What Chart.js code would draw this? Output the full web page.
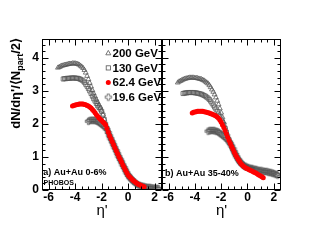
<!DOCTYPE html>
<html><head><meta charset="utf-8">
<script src="https://cdn.jsdelivr.net/npm/chart.js@4.4.1/dist/chart.umd.min.js"></script>
<style>
html,body{margin:0;padding:0;background:#fff;width:322px;height:249px;overflow:hidden;}
canvas{position:absolute;top:0;}
#c1{left:0}
#c2{left:154px}
</style></head><body>
<canvas id="c1" width="170" height="249"></canvas>
<canvas id="c2" width="168" height="249"></canvas>
<script>
// ---------- data ----------
const energies = ['200 GeV', '130 GeV', '62.4 GeV', '19.6 GeV'];
const etaGrid = [-5.3,-5.2,-5.1,-5.0,-4.9,-4.8,-4.7,-4.6,-4.5,-4.4,-4.3,-4.2,-4.1,-4.0,-3.9,-3.8,-3.7,-3.6,-3.5,-3.4,-3.3,-3.2,-3.1,-3.0,-2.9,-2.8,-2.7,-2.6,-2.5,-2.4,-2.3,-2.2,-2.1,-2.0,-1.9,-1.8,-1.7,-1.6,-1.5,-1.4,-1.3,-1.2,-1.1,-1.0,-0.9,-0.8,-0.7,-0.6,-0.5,-0.4,-0.3,-0.2,-0.1,0.0,0.1,0.2,0.3,0.4,0.5,0.6,0.7,0.8,0.9,1.0,1.1,1.2,1.3,1.4,1.5,1.6,1.7,1.8,1.9,2.0,2.1,2.2,2.3];
// index in etaGrid of the first point of each energy
const firstBin = [0, 4, 11, 23];

// panel a) Au+Au 0-6%
const v200a = [3.70,3.72,3.74,3.76,3.77,3.78,3.79,3.80,3.81,3.82,3.82,3.83,3.83,3.83,3.82,3.81,3.79,3.76,3.73,3.69,3.63,3.55,3.45,3.35,3.24,3.13,3.02,2.92,2.83,2.74,2.66,2.58,2.49,2.40,2.28,2.14,2.00,1.87,1.75,1.64,1.55,1.46,1.37,1.28,1.19,1.10,1.01,0.93,0.85,0.76,0.68,0.60,0.52,0.45];
const v130a = [3.36,3.37,3.37,3.38,3.38,3.38,3.39,3.39,3.39,3.39,3.38,3.38,3.37,3.35,3.33,3.30,3.26,3.20,3.14,3.07,3.00,2.92,2.84,2.76,2.69,2.62,2.55,2.50,2.45,2.38,2.27,2.13,1.99,1.86,1.75,1.64,1.55,1.46,1.37,1.28,1.19,1.10,1.01,0.93,0.85,0.76,0.68,0.60,0.52,0.45,0.40,0.36,0.32,0.28];
const v62a  = [2.54,2.56,2.57,2.58,2.59,2.60,2.60,2.60,2.60,2.59,2.58,2.56,2.54,2.51,2.48,2.44,2.39,2.34,2.28,2.23,2.18,2.14,2.10,2.06,2.02,1.97,1.86,1.75,1.64,1.55,1.46,1.37,1.28,1.19,1.10,1.01,0.93,0.85,0.76,0.68,0.60,0.52,0.45,0.40,0.36,0.32,0.28,0.25,0.22,0.19,0.17,0.15,0.13,0.11,0.10];
const v19a  = [2.08,2.10,2.11,2.11,2.11,2.10,2.09,2.07,2.05,2.02,1.99,1.96,1.93,1.89,1.83,1.74,1.64,1.55,1.46,1.37,1.28,1.19,1.10,1.01,0.93,0.85,0.76,0.68,0.60,0.52,0.45,0.39,0.34,0.30,0.26,0.23,0.20,0.17,0.15,0.13,0.12,0.11,0.10,0.09,0.08,0.08,0.07,0.07,0.06,0.06,0.05,0.05,0.04,0.04];

// panel b) Au+Au 35-40%
const v200b = [3.25,3.28,3.30,3.32,3.34,3.36,3.37,3.38,3.39,3.40,3.40,3.40,3.40,3.39,3.39,3.38,3.37,3.36,3.35,3.33,3.31,3.28,3.25,3.22,3.17,3.11,3.04,2.97,2.89,2.80,2.70,2.59,2.47,2.34,2.20,2.05,1.90,1.76,1.63,1.52,1.42,1.32,1.23,1.14,1.06,0.99,0.92,0.86,0.81,0.77,0.73,0.70,0.68,0.66];
const v130b = [2.92,2.93,2.94,2.94,2.95,2.95,2.95,2.95,2.95,2.94,2.94,2.93,2.92,2.91,2.90,2.88,2.86,2.84,2.81,2.78,2.74,2.69,2.63,2.57,2.51,2.45,2.38,2.30,2.22,2.14,2.06,1.98,1.87,1.75,1.63,1.52,1.42,1.32,1.23,1.14,1.06,0.99,0.92,0.86,0.81,0.77,0.73,0.70,0.68,0.66,0.65,0.64,0.63,0.62];
const v62b  = [2.33,2.35,2.36,2.37,2.38,2.38,2.38,2.38,2.38,2.37,2.36,2.35,2.34,2.33,2.31,2.30,2.28,2.26,2.24,2.21,2.17,2.12,2.05,1.97,1.89,1.80,1.70,1.60,1.50,1.41,1.32,1.23,1.14,1.06,0.99,0.92,0.86,0.80,0.76,0.72,0.69,0.66,0.64,0.62,0.60,0.58,0.56,0.54,0.52,0.50,0.47,0.45,0.42,0.40,0.37];
const v19b  = [1.78,1.79,1.80,1.80,1.80,1.79,1.78,1.77,1.75,1.72,1.69,1.66,1.63,1.60,1.56,1.51,1.46,1.40,1.33,1.25,1.16,1.08,1.00,0.93,0.87,0.82,0.78,0.75,0.72,0.70,0.68,0.67,0.66,0.65,0.64,0.63,0.62,0.61,0.60,0.59,0.58,0.58,0.57,0.56,0.56,0.55,0.54,0.53,0.52,0.51,0.50,0.48,0.47,0.45];

const xTicks = [-6, -4, -2, 0, 2];
const yTicks = [0, 1, 2, 3, 4];
const panelLabels = ['a) Au+Au 0-6%', 'b) Au+Au 35-40%'];
const experiment = 'PHOBOS';
const xTitle = "\u03B7'";
const yTitleMain = "dN/d\u03B7'/\u27E8N", yTitleSub = 'part', yTitleEnd = '/2\u27E9';

// ---------- helpers ----------
const FONT = "'Liberation Sans', Arial, sans-serif";
function pts(k, vals) { return vals.map((v, i) => ({ x: etaGrid[firstBin[k] + i], y: v })); }

const OPEN = '#555555';
const crossImg = document.createElement('canvas');
crossImg.width = 9; crossImg.height = 9;
(function () {
  const c = crossImg.getContext('2d');
  const cx = 4.5, cy = 4.5, h = 3.2, a = 1.1;
  const p = [[-a,-h],[a,-h],[a,-a],[h,-a],[h,a],[a,a],[a,h],[-a,h],[-a,a],[-h,a],[-h,-a],[-a,-a]];
  c.beginPath();
  p.forEach((q, i) => i ? c.lineTo(cx + q[0], cy + q[1]) : c.moveTo(cx + q[0], cy + q[1]));
  c.closePath();
  c.strokeStyle = OPEN; c.lineWidth = 0.8; c.stroke();
})();

function datasets(s200, s130, s62, s19) {
  return [
    { label: energies[2], data: pts(2, s62), pointStyle: 'circle', pointRadius: 2.5, backgroundColor: '#ff0000', borderColor: '#ff0000', borderWidth: 0, order: 0 },
    { label: energies[3], data: pts(3, s19), pointStyle: crossImg, pointRadius: 4, order: 1 },
    { label: energies[1], data: pts(1, s130), pointStyle: 'rect', pointRadius: 2.9, backgroundColor: 'rgba(0,0,0,0)', borderColor: OPEN, borderWidth: 0.75, order: 2 },
    { label: energies[0], data: pts(0, s200), pointStyle: 'triangle', pointRadius: 2.8, backgroundColor: 'rgba(0,0,0,0)', borderColor: OPEN, borderWidth: 0.75, order: 3 }
  ];
}

const frameTicks = {
  id: 'frameTicks',
  afterDatasetsDraw(chart) {
    const { ctx, chartArea: a, scales: { x, y } } = chart;
    ctx.save();
    ctx.strokeStyle = '#000'; ctx.lineWidth = 1;
    ctx.beginPath();
    const L = Math.round(a.left) + 0.5, R = Math.round(a.right) - 0.5, T = Math.round(a.top) + 0.5, B = Math.round(a.bottom) - 0.5;
    for (let k = Math.ceil(x.min * 2); k <= Math.floor(x.max * 2); k++) {
      const v = k / 2, px = Math.round(x.getPixelForValue(v)) + 0.5;
      const len = (k % 4 === 0) ? 6 : 3;
      ctx.moveTo(px, B); ctx.lineTo(px, B - len);
      ctx.moveTo(px, T); ctx.lineTo(px, T + len);
    }
    for (let k = 0; k <= Math.floor(y.max * 5); k++) {
      const v = k / 5, py = Math.round(y.getPixelForValue(v)) + 0.5;
      const len = (k % 5 === 0) ? 6 : 3;
      ctx.moveTo(L, py); ctx.lineTo(L + len, py);
      ctx.moveTo(R, py); ctx.lineTo(R - len, py);
    }
    ctx.stroke();
    ctx.strokeRect(L, T, R - L, B - T);
    ctx.restore();
  }
};

const decorations = {
  id: 'decorations',
  afterDraw(chart, args, opts) {
    const ctx = chart.ctx;
    ctx.save();
    ctx.fillStyle = '#000';
    ctx.textBaseline = 'middle';
    ctx.textAlign = 'left';
    ctx.font = 'bold 9px ' + FONT;
    ctx.fillText(opts.label, opts.labelX, opts.labelY);
    if (opts.left) {
      ctx.font = 'bold 7px ' + FONT;
      ctx.fillText(experiment, 43.5, 183.5);
      // legend
      const rows = [[energies[0], 'tri'], [energies[1], 'sq'], [energies[2], 'dot'], [energies[3], 'cross']];
      const ys = [53.3, 67.9, 82.5, 97.1];
      ctx.font = 'bold 11.5px ' + FONT;
      rows.forEach((r, i) => {
        const mx = 108.3, my = ys[i];
        ctx.fillStyle = '#000';
        ctx.fillText(r[0], 112.5, my + 0.5);
        ctx.strokeStyle = OPEN; ctx.lineWidth = 0.8;
        if (r[1] === 'tri') {
          ctx.beginPath(); ctx.moveTo(mx, my - 2.9); ctx.lineTo(mx + 2.5, my + 1.5); ctx.lineTo(mx - 2.5, my + 1.5); ctx.closePath(); ctx.stroke();
        } else if (r[1] === 'sq') {
          ctx.strokeRect(mx - 2.1, my - 2.1, 4.2, 4.2);
        } else if (r[1] === 'dot') {
          ctx.fillStyle = '#ff0000'; ctx.beginPath(); ctx.arc(mx, my, 2.5, 0, Math.PI * 2); ctx.fill();
        } else {
          ctx.drawImage(crossImg, mx - 4.5, my - 4.5);
        }
      });
      // y title (rotated)
      ctx.fillStyle = '#000';
      ctx.translate(20, 38);
      ctx.rotate(-Math.PI / 2);
      ctx.textBaseline = 'alphabetic';
      const fMain = 'bold 13px ' + FONT, fSub = 'bold 9px ' + FONT;
      ctx.font = fMain; const w1 = ctx.measureText(yTitleMain).width, w3 = ctx.measureText(yTitleEnd).width;
      ctx.font = fSub; const w2 = ctx.measureText(yTitleSub).width;
      let x0 = -(w1 + w2 + w3);
      ctx.font = fMain; ctx.fillText(yTitleMain, x0, 0); x0 += w1;
      ctx.font = fSub; ctx.fillText(yTitleSub, x0, 3); x0 += w2;
      ctx.font = fMain; ctx.fillText(yTitleEnd, x0, 0);
    }
    ctx.restore();
  }
};

function makeChart(id, left, sets) {
  return new Chart(document.getElementById(id), {
    type: 'scatter',
    data: { datasets: sets },
    plugins: [frameTicks, decorations],
    options: {
      responsive: false, animation: false, devicePixelRatio: 1,
      layout: { padding: left ? { left: 0, right: 8, top: 39, bottom: 0 } : { left: 8, right: 41, top: 39, bottom: 0 } },
      plugins: {
        legend: { display: false }, tooltip: { enabled: false },
        decorations: left ? { left: true, label: panelLabels[0], labelX: 43.3, labelY: 172.7 }
                          : { left: false, label: panelLabels[1], labelX: 11, labelY: 173.3 }
      },
      scales: {
        x: {
          type: 'linear', min: -6.5, max: 2.55,
          grid: { display: false, drawTicks: false }, border: { display: false },
          ticks: { font: { family: FONT, weight: 'bold', size: 12 }, color: '#000', padding: 0, autoSkip: false, maxRotation: 0, callback: v => String(v) },
          afterBuildTicks: s => { s.ticks = xTicks.map(v => ({ value: v })); },
          afterFit: s => { s.height = 59; },
          title: { display: true, text: xTitle, font: { family: FONT, size: 15 }, color: '#000', padding: { top: 0, bottom: 29 } }
        },
        y: {
          type: 'linear', min: 0, max: 4.57, display: left,
          grid: { display: false, drawTicks: false }, border: { display: false },
          ticks: { font: { family: FONT, weight: 'bold', size: 12 }, color: '#000', padding: 3, callback: v => String(v) },
          afterBuildTicks: s => { s.ticks = yTicks.map(v => ({ value: v })); },
          afterFit: s => { s.width = left ? 42 : 0; }
        }
      }
    }
  });
}

makeChart('c1', true, datasets(v200a, v130a, v62a, v19a));
makeChart('c2', false, datasets(v200b, v130b, v62b, v19b));
</script>
</body></html>
